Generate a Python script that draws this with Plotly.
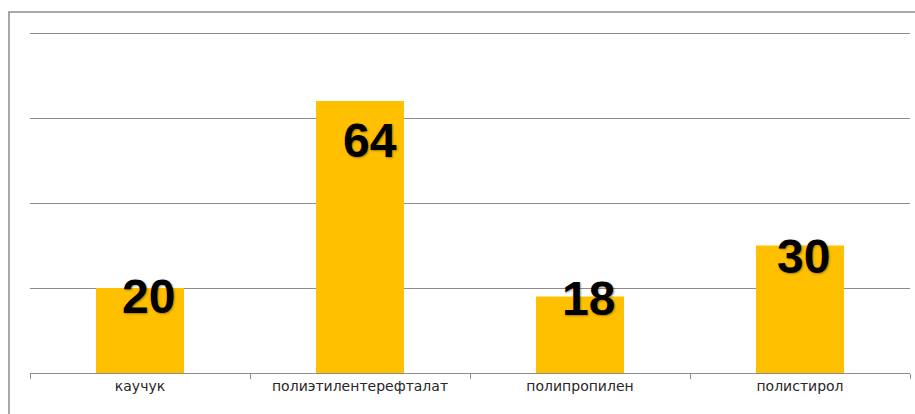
import plotly.graph_objects as go

categories = ["каучук", "полиэтилентерефталат", "полипропилен", "полистирол"]
values = [20, 64, 18, 30]
y_ticks = [0, 20, 40, 60, 80]

# label placement styling (pixel offsets from bar top)
label_yshift = [-8, -39, -2, -11]
label_xshift = [8, 10, 8, 3]

fig = go.Figure()
fig.add_trace(go.Bar(
    x=categories, y=values,
    width=0.4,
    marker=dict(color="#FFC000", line=dict(width=0)),
    hoverinfo="x+y",
))

for c, v, dy, dx in zip(categories, values, label_yshift, label_xshift):
    fig.add_annotation(
        x=c, y=v, text="<b>%d</b>" % v, showarrow=False,
        yanchor="middle", xanchor="center", yshift=dy, xshift=dx,
        font=dict(family="Liberation Sans, Arial, sans-serif", size=48, color="#000000",
                  shadow="1px 1px 2px rgba(60,40,0,0.45)"),
    )

W, H = 915, 414
ml, mr, mt, mb = 30, 5, 32, 41
pw = W - ml - mr
ph = H - mt - mb
# outer chart border
fig.add_shape(
    type="rect", xref="paper", yref="paper",
    x0=(9 - ml) / pw, x1=(920 - ml) / pw,
    y0=(H - mb - 420) / ph, y1=(H - mb - 12) / ph,
    line=dict(color="#8c8c8c", width=1.5), fillcolor="rgba(0,0,0,0)", layer="below",
)

fig.update_layout(
    width=W, height=H,
    margin=dict(l=ml, r=mr, t=mt, b=mb),
    paper_bgcolor="white", plot_bgcolor="white",
    showlegend=False,
    bargap=0.6,
    xaxis=dict(
        type="category", tickson="boundaries", ticks="outside", ticklen=5,
        tickcolor="#8c8c8c", showline=True, linecolor="#8c8c8c", linewidth=1,
        showgrid=False,
        tickfont=dict(family="DejaVu Sans, Verdana, sans-serif", size=14, color="#262626"),
    ),
    yaxis=dict(
        range=[0, 80.25], tickvals=y_ticks, showticklabels=False,
        showgrid=True, gridcolor="#8c8c8c", gridwidth=1, zeroline=False,
        fixedrange=True,
    ),
)

fig.write_html("out.html", config={"displayModeBar": False},
               post_script="document.body.style.margin='0';document.body.style.overflow='hidden';")
